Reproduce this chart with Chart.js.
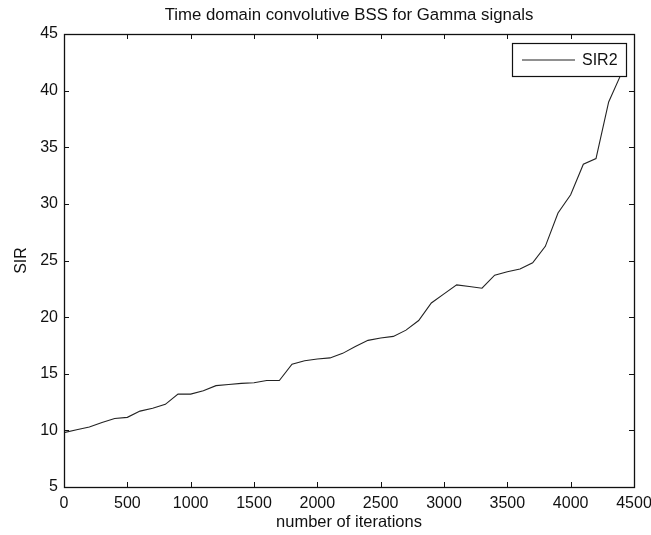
<!DOCTYPE html>
<html>
<head>
<meta charset="utf-8">
<script src="https://cdn.jsdelivr.net/npm/chart.js@4.4.1/dist/chart.umd.min.js"></script>
<style>
  html, body { margin: 0; padding: 0; background: #fff; }
  #wrap { width: 651px; height: 535px; }
</style>
</head>
<body>
<div id="wrap"><canvas id="c" width="651" height="535"></canvas></div>
<script>
// Iteration counts at which SIR was recorded
const iterations = [
  0, 100, 200, 300, 400, 500, 600, 700, 800, 900,
  1000, 1100, 1200, 1300, 1400, 1500, 1600, 1700, 1800, 1900,
  2000, 2100, 2200, 2300, 2400, 2500, 2600, 2700, 2800, 2900,
  3000, 3100, 3200, 3300, 3400, 3500, 3600, 3700, 3800, 3900,
  4000, 4100, 4200, 4300, 4400
];

// Signal-to-interference ratio of the second separated source
const sir2 = [
  9.8, 10.05, 10.3, 10.7, 11.05, 11.15, 11.7, 11.95, 12.3, 13.2,
  13.2, 13.5, 13.95, 14.05, 14.15, 14.2, 14.4, 14.4, 15.85, 16.15,
  16.3, 16.4, 16.8, 17.4, 17.95, 18.15, 18.3, 18.85, 19.7, 21.25,
  22.05, 22.85, 22.7, 22.55, 23.7, 24.0, 24.25, 24.8, 26.25, 29.2,
  30.8, 33.5, 34.0, 39.0, 41.5
];

const xTicks = [0, 500, 1000, 1500, 2000, 2500, 3000, 3500, 4000, 4500];
const yTicks = [5, 10, 15, 20, 25, 30, 35, 40, 45];

const chartTitle = 'Time domain convolutive BSS for Gamma signals';
const seriesName = 'SIR2';
const FONT = '"Liberation Sans", Arial, Helvetica, sans-serif';

// Title centred over the axes box rather than the whole canvas
const axesTitle = {
  id: 'axesTitle',
  afterDraw(chart) {
    const { ctx, chartArea: a } = chart;
    ctx.save();
    ctx.fillStyle = '#111';
    ctx.font = '16.8px ' + FONT;
    ctx.textAlign = 'center';
    ctx.textBaseline = 'middle';
    ctx.fillText(chartTitle, (a.left + a.right) / 2, 15);
    ctx.restore();
  }
};

// Box frame with inward tick marks on all four sides
const boxTicks = {
  id: 'boxTicks',
  afterDatasetsDraw(chart) {
    const { ctx, chartArea: a, scales } = chart;
    const len = 5;
    ctx.save();
    ctx.strokeStyle = '#111';
    ctx.lineWidth = 1;
    ctx.beginPath();
    xTicks.forEach(v => {
      const px = Math.round(scales.x.getPixelForValue(v)) + 0.5;
      ctx.moveTo(px, a.bottom); ctx.lineTo(px, a.bottom - len);
      ctx.moveTo(px, a.top); ctx.lineTo(px, a.top + len);
    });
    yTicks.forEach(v => {
      const py = Math.round(scales.y.getPixelForValue(v)) + 0.5;
      ctx.moveTo(a.left, py); ctx.lineTo(a.left + len, py);
      ctx.moveTo(a.right, py); ctx.lineTo(a.right - len, py);
    });
    ctx.stroke();
    ctx.lineWidth = 1.3;
    ctx.strokeRect(Math.round(a.left) + 0.5, Math.round(a.top) + 0.5,
                   Math.round(a.right - a.left), Math.round(a.bottom - a.top));
    ctx.restore();
  }
};

// Legend box in the upper right corner of the axes
const boxLegend = {
  id: 'boxLegend',
  afterDatasetsDraw(chart) {
    const { ctx, chartArea: a } = chart;
    const w = 114, h = 33;
    const x = Math.round(a.right) - 8 - w, y = Math.round(a.top) + 9;
    ctx.save();
    ctx.fillStyle = '#fff';
    ctx.fillRect(x, y, w, h);
    ctx.strokeStyle = '#111';
    ctx.lineWidth = 1.2;
    ctx.strokeRect(x + 0.5, y + 0.5, w, h);
    ctx.beginPath();
    ctx.moveTo(x + 10, y + h / 2 + 0.5);
    ctx.lineTo(x + 63, y + h / 2 + 0.5);
    ctx.lineWidth = 1.1;
    ctx.strokeStyle = '#222';
    ctx.stroke();
    ctx.fillStyle = '#111';
    ctx.font = '16px ' + FONT;
    ctx.textBaseline = 'middle';
    ctx.textAlign = 'left';
    ctx.fillText(seriesName, x + 70, y + h / 2 + 1);
    ctx.restore();
  }
};

new Chart(document.getElementById('c'), {
  type: 'line',
  data: {
    datasets: [{
      label: seriesName,
      data: iterations.map((it, i) => ({ x: it, y: sir2[i] })),
      borderColor: '#222',
      borderWidth: 1.1,
      pointRadius: 0,
      tension: 0,
      fill: false
    }]
  },
  options: {
    responsive: false,
    animation: false,
    layout: { padding: { top: 34, right: 17, left: 0, bottom: 0 } },
    plugins: {
      legend: { display: false },
      tooltip: { enabled: false },
      title: { display: false }
    },
    scales: {
      x: {
        type: 'linear',
        min: 0, max: 4500,
        afterBuildTicks(s) { s.ticks = xTicks.map(v => ({ value: v })); },
        afterFit(s) { s.height = 48; s.paddingRight = 0; s.paddingLeft = 0; },
        grid: { display: false, drawTicks: false },
        border: { display: false },
        ticks: {
          color: '#111', padding: 7, maxRotation: 0, autoSkip: false,
          font: { family: FONT, size: 16 },
          callback: v => String(v)
        },
        title: {
          display: true, text: 'number of iterations', color: '#111',
          font: { family: FONT, size: 16.5 }, padding: { top: 0, bottom: 3 }
        }
      },
      y: {
        type: 'linear',
        min: 5, max: 45,
        afterBuildTicks(s) { s.ticks = yTicks.map(v => ({ value: v })); },
        afterFit(s) { s.width = 64; s.paddingTop = 0; s.paddingBottom = 0; },
        grid: { display: false, drawTicks: false },
        border: { display: false },
        ticks: {
          color: '#111', padding: 6, autoSkip: false,
          font: { family: FONT, size: 16 },
          callback: v => String(v)
        },
        title: {
          display: true, text: 'SIR', color: '#111',
          font: { family: FONT, size: 16 }, padding: { top: 12, bottom: 0 }
        }
      }
    }
  },
  plugins: [boxTicks, boxLegend, axesTitle]
});
</script>
</body>
</html>
